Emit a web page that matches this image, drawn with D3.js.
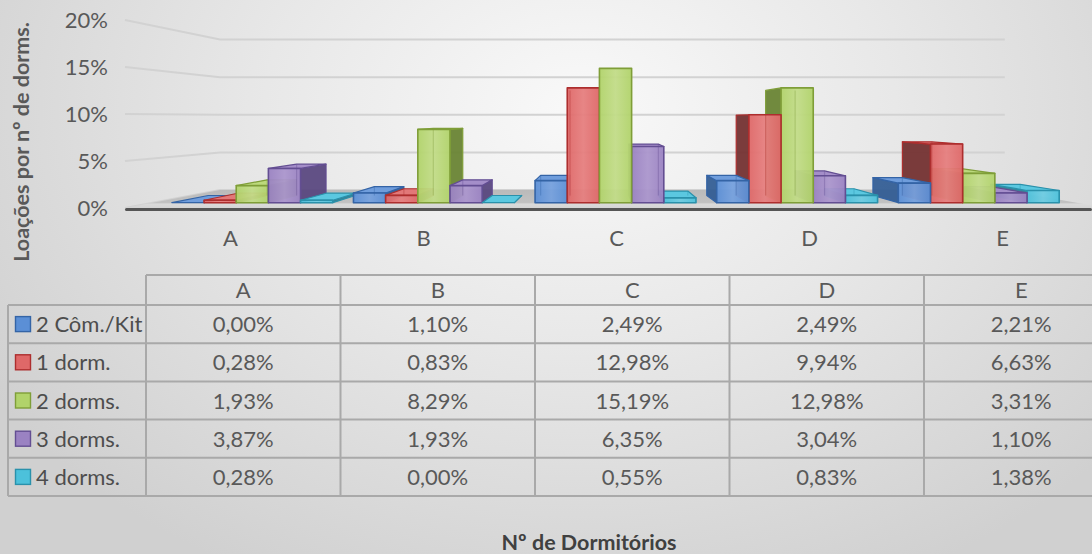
<!DOCTYPE html>
<html>
<head>
<meta charset="utf-8">
<script src="https://cdn.jsdelivr.net/npm/d3@7"></script>
<style>
  html, body { margin: 0; padding: 0; overflow: hidden; background: #e4e4e4; }
  svg { display: block; }
  text { font-family: Lato, "Open Sans", sans-serif; }
</style>
</head>
<body>
<svg id="chart" width="1092" height="554"></svg>
<script>
// ---- data -------------------------------------------------------------
const categories = ["A", "B", "C", "D", "E"];
const seriesNames = ["2 Côm./Kit", "1 dorm.", "2 dorms.", "3 dorms.", "4 dorms."];
const valuesKit = [0.00, 1.10, 2.49, 2.49, 2.21];
const values1Dorm = [0.28, 0.83, 12.98, 9.94, 6.63];
const values2Dorms = [1.93, 8.29, 15.19, 12.98, 3.31];
const values3Dorms = [3.87, 1.93, 6.35, 3.04, 1.10];
const values4Dorms = [0.28, 0.00, 0.55, 0.83, 1.38];
const yTicks = [0, 5, 10, 15, 20];
const yTickLabels = ["0%", "5%", "10%", "15%", "20%"];
const yTitle = "Loações por nº de dorms.";
const xTitle = "Nº de Dormitórios";

const seriesValues = [valuesKit, values1Dorm, values2Dorms, values3Dorms, values4Dorms];

// palette per series: front face, side face, top face, outline
const palette = [
  { front: "#5b8fd6", light: "#76a1de", side: "#2f5a92", top: "#6f9ddc", edge: "#3464a6" },
  { front: "#df6868", light: "#e67f7f", side: "#712c2c", top: "#e27878", edge: "#ad2e2e" },
  { front: "#b1d36a", light: "#c2dc88", side: "#66812f", top: "#bcd97c", edge: "#7f9e38" },
  { front: "#9a82c2", light: "#ab96cd", side: "#56437d", top: "#a48ec9", edge: "#634e92" },
  { front: "#4cc1db", light: "#6dcce2", side: "#2a7d93", top: "#5bc8e0", edge: "#2a91ab" }
];

// ---- perspective set-up -----------------------------------------------
const W = 1092, H = 554;
const VX = 600, VY = 118;           // vanishing point
const S_FRONT = 1, S_BACK = 0.8;    // walls / floor depth
const S_BAR_F = 0.941, S_BAR_B = 0.861; // bar depth
const WALL_X0 = 125, WALL_X1 = 1106;

const proj = (x, y, s) => [VX + (x - VX) * s, VY + (y - VY) * s];

const x = d3.scaleBand().domain(categories).range([134, 1099]);
const xs = d3.scaleBand().domain(seriesNames).range([-85.5, 85.5]);
const y = d3.scaleLinear().domain([0, 20]).range([208, 20]);

const svg = d3.select("#chart");
const defs = svg.append("defs");

// background
const bg = defs.append("radialGradient").attr("id", "bg")
  .attr("gradientUnits", "userSpaceOnUse")
  .attr("cx", 580).attr("cy", 110).attr("r", 700)
  .attr("gradientTransform", "translate(580,110) scale(1,0.75) translate(-580,-110)");
bg.append("stop").attr("offset", 0).attr("stop-color", "#f9f9f9");
bg.append("stop").attr("offset", 0.45).attr("stop-color", "#e8e8e8");
bg.append("stop").attr("offset", 1).attr("stop-color", "#d0d0d0");
svg.append("rect").attr("width", W).attr("height", H).attr("fill", "url(#bg)");

// floor gradient
const fg = defs.append("linearGradient").attr("id", "floor")
  .attr("gradientUnits", "userSpaceOnUse")
  .attr("x1", 0).attr("y1", proj(0, y(0), S_BACK)[1])
  .attr("x2", 0).attr("y2", y(0));
fg.append("stop").attr("offset", 0).attr("stop-color", "#bababa");
fg.append("stop").attr("offset", 0.7).attr("stop-color", "#c2c2c2");
fg.append("stop").attr("offset", 0.78).attr("stop-color", "#dadada");
fg.append("stop").attr("offset", 1).attr("stop-color", "#d4d4d4");

// bar face gradients
palette.forEach((p, i) => {
  const g = defs.append("linearGradient").attr("id", "front" + i)
    .attr("x1", 0).attr("y1", 0).attr("x2", 1).attr("y2", 0);
  g.append("stop").attr("offset", 0).attr("stop-color", p.front);
  g.append("stop").attr("offset", 0.5).attr("stop-color", p.light);
  g.append("stop").attr("offset", 1).attr("stop-color", p.front);
});

const line = d3.line();

// ---- gridlines on side and back walls ----------------------------------
const grid = svg.append("g");
yTicks.forEach(t => {
  grid.append("path")
    .attr("d", line([proj(WALL_X0, y(t), S_FRONT), proj(WALL_X0, y(t), S_BACK), proj(WALL_X1, y(t), S_BACK)]))
    .attr("fill", "none").attr("stroke", "#d2d2d2").attr("stroke-width", 2);
});

// ---- floor ----------------------------------------------------------------
svg.append("path")
  .attr("d", line([proj(WALL_X0, y(0), S_FRONT), proj(WALL_X0, y(0), S_BACK),
                   proj(WALL_X1, y(0), S_BACK), proj(WALL_X1, y(0), S_FRONT)]) + "Z")
  .attr("fill", "url(#floor)");
svg.append("rect")
  .attr("x", WALL_X0).attr("y", y(0)).attr("width", W - WALL_X0).attr("height", 3)
  .attr("rx", 1.5).attr("fill", "#555555");

// ---- bars -----------------------------------------------------------------
const bars = [];
seriesNames.forEach((name, si) => {
  seriesValues[si].forEach((v, ci) => {
    const x0 = x(categories[ci]) + x.bandwidth() / 2 + xs(name);
    bars.push({ si, ci, v, x0, x1: x0 + xs.bandwidth() });
  });
});
// paint the bars farthest from the vanishing point first
bars.sort((a, b) => Math.abs((b.x0 + b.x1) / 2 - VX) - Math.abs((a.x0 + a.x1) / 2 - VX));

const barLayer = svg.append("g");
bars.forEach(b => {
  const p = palette[b.si];
  const yt = y(b.v), yb = y(0);
  const FLt = proj(b.x0, yt, S_BAR_F), FRt = proj(b.x1, yt, S_BAR_F);
  const FLb = proj(b.x0, yb, S_BAR_F), FRb = proj(b.x1, yb, S_BAR_F);
  const BLt = proj(b.x0, yt, S_BAR_B), BRt = proj(b.x1, yt, S_BAR_B);
  const BLb = proj(b.x0, yb, S_BAR_B), BRb = proj(b.x1, yb, S_BAR_B);
  const g = barLayer.append("g").attr("stroke-linejoin", "round");

  if (b.x1 < VX) {
    g.append("path").attr("d", line([FRt, BRt, BRb, FRb]) + "Z")
      .attr("fill", p.side).attr("fill-opacity", 0.92)
      .attr("stroke", p.edge).attr("stroke-width", 1.2);
  } else if (b.x0 > VX) {
    g.append("path").attr("d", line([FLt, BLt, BLb, FLb]) + "Z")
      .attr("fill", p.side).attr("fill-opacity", 0.92)
      .attr("stroke", p.edge).attr("stroke-width", 1.2);
  }
  if (yt > VY) {
    g.append("path").attr("d", line([FLt, FRt, BRt, BLt]) + "Z")
      .attr("fill", p.top).attr("stroke", p.edge).attr("stroke-width", 1.2);
  }
  if (FLb[1] - FLt[1] > 0.5) {
    g.append("path").attr("d", line([FLt, FRt, FRb, FLb]) + "Z")
      .attr("fill", `url(#front${b.si})`).attr("fill-opacity", 0.95)
      .attr("stroke", p.edge).attr("stroke-width", 1.6);
    // hidden back edge seen through the glassy face
    const hid = b.x1 < VX ? [BLt, BLb] : (b.x0 > VX ? [BRt, BRb] : null);
    if (hid && hid[1][1] - hid[0][1] > 4) {
      g.append("path").attr("d", line(hid))
        .attr("stroke", p.edge).attr("stroke-opacity", 0.35).attr("stroke-width", 1.2);
    }
  }
});

// ---- y axis labels ---------------------------------------------------------
svg.append("g").selectAll("text").data(yTicks).join("text")
  .attr("x", 108).attr("y", d => y(d) + 8)
  .attr("text-anchor", "end").attr("font-size", 22).attr("fill", "#595959")
  .text((d, i) => yTickLabels[i]);

// category labels under the floor
svg.append("g").selectAll("text").data(categories).join("text")
  .attr("x", d => x(d) + x.bandwidth() / 2).attr("y", 246)
  .attr("text-anchor", "middle").attr("font-size", 22).attr("fill", "#595959")
  .text(d => d);

// axis titles
svg.append("text")
  .attr("transform", "translate(29,142) rotate(-90)")
  .attr("text-anchor", "middle").attr("font-size", 21.5).attr("font-weight", 700)
  .attr("fill", "#595959").text(yTitle);
svg.append("text")
  .attr("x", 589).attr("y", 550).attr("text-anchor", "middle")
  .attr("font-size", 21.5).attr("font-weight", 700).attr("fill", "#404040").text(xTitle);

// ---- data table -------------------------------------------------------------
const tx = d3.scaleBand().domain(categories).range([146, 146 + 194.5 * 5]);
const headTop = 275, headBottom = 305, rowH = 38.2;
const rowY = i => headBottom + i * rowH;
const tableBottom = rowY(seriesNames.length);
const table = svg.append("g");
const border = "#a9a9a9";

// horizontal rules
table.append("line").attr("x1", 146).attr("x2", W).attr("y1", headTop).attr("y2", headTop)
  .attr("stroke", border).attr("stroke-width", 2);
d3.range(seriesNames.length + 1).forEach(i => {
  table.append("line").attr("x1", 8).attr("x2", W).attr("y1", rowY(i)).attr("y2", rowY(i))
    .attr("stroke", border).attr("stroke-width", 2);
});
// vertical rules
table.append("line").attr("x1", 8).attr("x2", 8).attr("y1", headBottom).attr("y2", tableBottom)
  .attr("stroke", border).attr("stroke-width", 2);
categories.forEach(c => {
  table.append("line").attr("x1", tx(c)).attr("x2", tx(c))
    .attr("y1", headTop).attr("y2", tableBottom)
    .attr("stroke", border).attr("stroke-width", 2);
});

// header
table.selectAll("text.head").data(categories).join("text").attr("class", "head")
  .attr("x", d => tx(d) + tx.bandwidth() / 2).attr("y", (headTop + headBottom) / 2 + 8)
  .attr("text-anchor", "middle").attr("font-size", 22).attr("fill", "#595959")
  .text(d => d);

// rows
const fmt = v => v.toFixed(2).replace(".", ",") + "%";
seriesNames.forEach((name, si) => {
  const cy = rowY(si) + rowH / 2;
  table.append("rect").attr("x", 15.5).attr("y", cy - 7.5).attr("width", 15).attr("height", 15)
    .attr("fill", palette[si].front).attr("stroke", palette[si].edge).attr("stroke-width", 1.4);
  table.append("text").attr("x", 36).attr("y", cy + 8)
    .attr("font-size", 22).attr("fill", "#4d4d4d").text(name);
  categories.forEach((c, ci) => {
    table.append("text").attr("x", tx(c) + tx.bandwidth() / 2).attr("y", cy + 8)
      .attr("text-anchor", "middle").attr("font-size", 22).attr("fill", "#595959")
      .text(fmt(seriesValues[si][ci]));
  });
});
</script>
</body>
</html>
